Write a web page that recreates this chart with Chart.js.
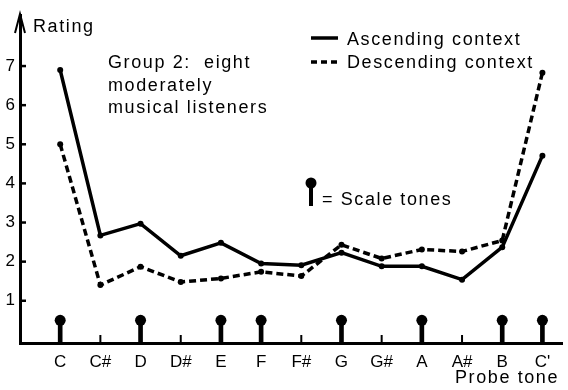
<!DOCTYPE html>
<html>
<head>
<meta charset="utf-8">
<script src="https://cdn.jsdelivr.net/npm/chart.js@4/dist/chart.umd.min.js"></script>
<style>
	html, body { margin: 0; padding: 0; background: #fff; }
	#wrap { width: 568px; height: 390px; }
</style>
</head>
<body>
<div id="wrap"><canvas id="chart" width="568" height="390"></canvas></div>
<script>
// Probe tones along the x axis
var categories = ['C', 'C#', 'D', 'D#', 'E', 'F', 'F#', 'G', 'G#', 'A', 'A#', 'B', "C'"];

// Mean ratings
var ascending  = [6.90, 2.67, 2.97, 2.15, 2.48, 1.95, 1.91, 2.23, 1.88, 1.88, 1.54, 2.37, 4.71];
var descending = [5.00, 1.40, 1.87, 1.48, 1.57, 1.74, 1.63, 2.43, 2.08, 2.31, 2.26, 2.54, 6.83];

// Tones that belong to the scale (lollipop markers)
var scaleTones = ['C', 'D', 'E', 'F', 'G', 'A', 'B', "C'"];

var yTicks = [1, 2, 3, 4, 5, 6, 7];

var FONT = '"Liberation Sans", Arial, sans-serif';
var Y_MIN = -0.08;
var TONE_MARK = 0.5;

function toPoints (values)
{
	return values.map(function (v, i) { return {x: i, y: v}; });
}

var tonePoints = scaleTones.map(function (t) { return {x: categories.indexOf(t), y: TONE_MARK}; });

var overlay = {
	id : 'overlay',
	afterDraw : function (chart)
	{
		var ctx = chart.ctx, x = chart.scales.x, y = chart.scales.y;
		var ax = y.right, bottom = x.top;

		ctx.save();
		ctx.strokeStyle = '#000';
		ctx.fillStyle = '#000';
		ctx.lineCap = 'butt';

		// arrow head on the rating axis
		ctx.lineWidth = 2;
		ctx.beginPath();
		ctx.moveTo(ax - 5, 33);
		ctx.lineTo(ax, 14);
		ctx.lineTo(ax + 5, 33);
		ctx.stroke();

		// inner tick marks on the rating axis
		ctx.lineWidth = 2.5;
		yTicks.forEach(function (t) {
			var py = y.getPixelForValue(t);
			ctx.beginPath();
			ctx.moveTo(ax, py);
			ctx.lineTo(ax + 6, py);
			ctx.stroke();
		});

		// short ticks for the non-scale tones
		ctx.lineWidth = 2;
		categories.forEach(function (c, i) {
			if (scaleTones.indexOf(c) >= 0) return;
			var px = x.getPixelForValue(i);
			ctx.beginPath();
			ctx.moveTo(px, bottom);
			ctx.lineTo(px, bottom - 8);
			ctx.stroke();
		});

		// texts
		ctx.font = '18px ' + FONT;
		ctx.letterSpacing = '1.6px';
		ctx.textBaseline = 'alphabetic';
		ctx.textAlign = 'left';
		ctx.fillText('Rating', 33, 32);
		ctx.fillText('Group 2:  eight', 108, 68);
		ctx.fillText('moderately', 108, 91);
		ctx.fillText('musical listeners', 108, 113);
		ctx.fillText('Ascending context', 347, 45);
		ctx.fillText('Descending context', 347, 68);
		ctx.fillText('= Scale tones', 322, 205);
		ctx.fillText('Probe tone', 455, 383);

		// legend samples
		ctx.lineWidth = 3.5;
		ctx.beginPath();
		ctx.moveTo(311, 38);
		ctx.lineTo(338, 38);
		ctx.stroke();
		ctx.setLineDash([6, 4]);
		ctx.beginPath();
		ctx.moveTo(311, 62);
		ctx.lineTo(338, 62);
		ctx.stroke();
		ctx.setLineDash([]);

		// scale tone key
		ctx.lineWidth = 4;
		ctx.beginPath();
		ctx.moveTo(311, 183);
		ctx.lineTo(311, 206);
		ctx.stroke();
		ctx.beginPath();
		ctx.arc(311, 183, 5.5, 0, Math.PI * 2);
		ctx.fill();

		ctx.restore();
	}
};

new Chart(document.getElementById('chart').getContext('2d'), {
	type : 'line',
	data : {
		datasets : [
			{
				label : 'Ascending context',
				data : toPoints(ascending),
				borderColor : '#000',
				backgroundColor : '#000',
				borderWidth : 3.5,
				pointRadius : 3,
				pointBorderWidth : 0,
				tension : 0
			},
			{
				label : 'Descending context',
				data : toPoints(descending),
				borderColor : '#000',
				backgroundColor : '#000',
				borderWidth : 3.5,
				borderDash : [7, 4],
				pointRadius : 3,
				pointBorderWidth : 0,
				tension : 0
			},
			{
				type : 'bar',
				label : 'Scale tones',
				data : tonePoints,
				backgroundColor : '#000',
				barThickness : 4,
				base : Y_MIN,
				grouped : false
			},
			{
				type : 'scatter',
				label : 'Scale tones head',
				data : tonePoints,
				backgroundColor : '#000',
				pointRadius : 5.5,
				pointBorderWidth : 0,
				showLine : false
			}
		]
	},
	options : {
		responsive : false,
		animation : false,
		layout : { padding : { top : 14, right : 0, left : 0, bottom : 0 } },
		plugins : {
			legend : { display : false },
			tooltip : { enabled : false }
		},
		scales : {
			x : {
				type : 'linear',
				min : -1,
				max : 12.5,
				offset : false,
				afterBuildTicks : function (scale) {
					scale.ticks = categories.map(function (c, i) { return {value: i}; });
				},
				afterFit : function (scale) { scale.height = 47; },
				grid : { display : false, drawTicks : false },
				border : { display : true, color : '#000', width : 3 },
				ticks : {
					autoSkip : false,
					maxRotation : 0,
					padding : 9,
					color : '#000',
					font : { family : FONT, size : 17 },
					callback : function (v) { return categories[v]; }
				}
			},
			y : {
				type : 'linear',
				min : Y_MIN,
				max : 8.3,
				afterBuildTicks : function (scale) {
					scale.ticks = yTicks.map(function (t) { return {value: t}; });
				},
				afterFit : function (scale) { scale.width = 20; },
				grid : { display : false, drawTicks : false },
				border : { display : true, color : '#000', width : 3 },
				ticks : {
					padding : 5,
					color : '#000',
					font : { family : FONT, size : 17 }
				}
			}
		}
	},
	plugins : [overlay]
});
</script>
</body>
</html>
